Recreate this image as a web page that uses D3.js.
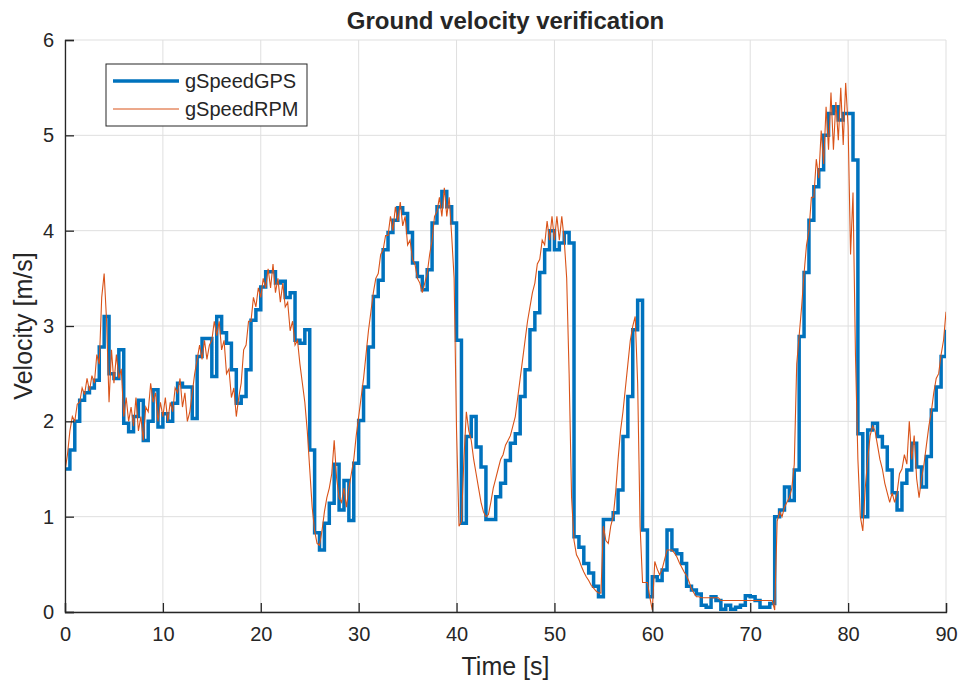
<!DOCTYPE html>
<html>
<head>
<meta charset="utf-8">
<script src="https://cdn.jsdelivr.net/npm/d3@7"></script>
<style>
    body { margin: 0; background: #fff; }
    text { font-family: "Liberation Sans", Arial, Helvetica, sans-serif; fill: #262626; }
</style>
</head>
<body>
<script>
// GPS ground speed, sampled every 0.5 s (held between samples)
const gpsStep = 0.5;
const gpsSpeed = [
    1.50, 1.70, 2.00, 2.22, 2.30, 2.35, 2.43, 2.78, 3.10, 2.50,
    2.45, 2.75, 1.98, 1.89, 2.05, 2.22, 1.80, 2.00, 2.33, 1.94,
    2.08, 2.00, 2.19, 2.40, 2.36, 2.36, 2.03, 2.68, 2.87, 2.87,
    2.47, 3.10, 2.93, 2.82, 2.54, 2.19, 2.26, 2.54, 3.06, 3.17,
    3.41, 3.57, 3.57, 3.45, 3.47, 3.30, 3.35, 2.85, 2.82, 2.96,
    1.70, 0.83, 0.65, 0.93, 1.14, 1.55, 1.07, 1.38, 0.96, 1.56,
    2.01, 2.36, 2.78, 3.31, 3.48, 3.80, 3.98, 4.11, 4.24, 4.18,
    3.98, 3.66, 3.52, 3.38, 3.59, 4.08, 4.25, 4.41, 4.25, 4.08,
    2.85, 0.93, 1.84, 2.05, 1.73, 1.52, 0.97, 0.97, 1.21, 1.35,
    1.59, 1.77, 1.87, 2.26, 2.54, 2.96, 3.14, 3.56, 3.80, 4.00,
    3.80, 3.87, 3.98, 3.87, 0.79, 0.68, 0.51, 0.41, 0.27, 0.16,
    0.97, 0.97, 1.04, 1.28, 1.84, 2.26, 2.96, 3.27, 0.86, 0.16,
    0.37, 0.33, 0.44, 0.86, 0.65, 0.61, 0.51, 0.27, 0.23, 0.19,
    0.07, 0.05, 0.16, 0.12, 0.03, 0.07, 0.03, 0.05, 0.07, 0.17,
    0.16, 0.12, 0.05, 0.05, 0.09, 1.00, 1.07, 1.31, 1.17, 1.49,
    2.89, 3.56, 4.11, 4.46, 4.64, 5.00, 5.23, 5.30, 5.16, 5.23,
    5.23, 4.74, 1.87, 1.00, 1.91, 1.98, 1.84, 1.73, 1.49, 1.25,
    1.07, 1.35, 1.49, 1.77, 1.52, 1.31, 1.63, 2.12, 2.36, 2.68,
    2.96
];

// speed from wheel RPM, sampled every 0.25 s (one row of four per second)
const rpmStep = 0.25;
const rpmSpeed = [
    1.48, 1.65, 1.90, 2.05,  2.00, 2.18, 2.20, 2.35,  2.28, 2.45, 2.32, 2.48,
    2.40, 2.70, 2.60, 3.30,  3.55, 3.05, 2.20, 2.75,  2.40, 2.70, 2.45, 2.55,
    2.05, 2.25, 2.00, 2.15,  1.95, 2.25, 1.90, 2.05,  1.80, 2.15, 2.10, 2.40,
    2.20, 2.30, 2.00, 2.20,  2.05, 2.25, 2.00, 2.20,  2.10, 2.35, 2.30, 2.45,
    2.15, 2.30, 2.00, 2.10,  2.30, 2.50, 2.65, 2.80,  2.65, 2.85, 2.65, 2.80,
    2.85, 3.05, 2.90, 3.05,  2.75, 2.85, 2.50, 2.55,  2.25, 2.35, 2.05, 2.25,
    2.40, 2.75, 2.80, 3.05,  3.05, 3.30, 3.20, 3.40,  3.30, 3.50, 3.40, 3.60,
    3.40, 3.65, 3.35, 3.50,  3.25, 3.45, 3.20, 3.25,  2.95, 3.05, 2.80, 2.85,
    2.60, 2.40, 2.20, 1.90,  1.50, 1.10, 0.85, 0.72,  0.70, 0.85, 1.05, 1.20,
    1.30, 1.45, 1.80, 1.40,  1.20, 1.15, 1.30, 1.10,  1.30, 1.45, 1.60, 1.85,
    2.05, 2.25, 2.45, 2.70,  2.95, 3.15, 3.35, 3.50,  3.55, 3.75, 3.80, 3.95,
    3.95, 4.15, 4.00, 4.25,  4.10, 4.30, 4.05, 4.15,  3.85, 3.90, 3.70, 3.65,
    3.50, 3.45, 3.35, 3.45,  3.55, 3.75, 3.90, 4.15,  4.20, 4.35, 4.15, 4.45,
    4.15, 4.35, 3.95, 3.50,  1.90, 0.90, 0.95, 1.60,  2.10, 1.90, 1.80, 1.60,
    1.45, 1.30, 1.15, 1.05,  1.00, 1.02, 1.15, 1.30,  1.40, 1.50, 1.60, 1.65,
    1.75, 1.80, 1.85, 1.95,  2.05, 2.25, 2.45, 2.65,  2.85, 3.05, 3.20, 3.35,
    3.45, 3.65, 3.70, 3.90,  3.85, 4.10, 3.90, 4.15,  3.90, 4.15, 3.90, 4.15,
    3.90, 3.50, 2.50, 1.20,  0.75, 0.60, 0.55, 0.48,  0.42, 0.37, 0.33, 0.28,
    0.25, 0.22, 0.20, 0.20,  0.90, 0.75, 0.72, 0.90,  1.00, 1.25, 1.60, 1.90,
    2.10, 2.35, 2.60, 2.85,  3.00, 3.10, 2.40, 0.90,  0.31, 0.31, 0.31, 0.15,
    0.02, 0.53, 0.45, 0.39,  0.45, 0.55, 0.65, 0.65,  0.65, 0.62, 0.58, 0.52,
    0.47, 0.42, 0.38, 0.32,  0.24, 0.20, 0.16, 0.16,  0.15, 0.15, 0.15, 0.15,
    0.15, 0.15, 0.15, 0.15,  0.12, 0.12, 0.12, 0.12,  0.12, 0.12, 0.12, 0.12,
    0.12, 0.12, 0.12, 0.12,  0.12, 0.12, 0.12, 0.12,  0.12, 0.12, 0.12, 0.12,
    0.12, 0.12, 0.02, 0.95,  1.05, 1.00, 1.10, 1.15,  1.20, 1.30, 1.55, 2.60,
    2.90, 3.20, 3.55, 3.85,  4.00, 4.35, 4.35, 4.75,  4.55, 5.05, 4.70, 5.30,
    4.85, 5.45, 4.85, 5.35,  4.95, 5.50, 4.90, 5.55,  5.10, 3.75, 4.40, 2.70,
    1.60, 1.00, 0.85, 1.30,  1.60, 1.85, 1.95, 1.90,  1.75, 1.60, 1.50, 1.35,
    1.25, 1.15, 1.25, 1.15,  1.25, 1.45, 1.50, 1.65,  1.55, 2.00, 1.60, 1.85,
    1.40, 1.20, 1.40, 1.55,  1.75, 1.95, 2.10, 2.30,  2.45, 2.50, 2.70, 2.85,
    3.15
];

const xTicks = [0, 10, 20, 30, 40, 50, 60, 70, 80, 90];
const yTicks = [0, 1, 2, 3, 4, 5, 6];
const seriesNames = ['gSpeedGPS', 'gSpeedRPM'];

document.addEventListener('DOMContentLoaded', function () {
    const width = 960;
    const height = 682;
    const margin = { top: 40, right: 14, bottom: 70, left: 65 };
    const plotW = width - margin.left - margin.right;
    const plotH = height - margin.top - margin.bottom;

    const blue = '#0072BD';
    const orange = '#D95319';
    const axisColor = '#262626';

    const svg = d3.select('body').append('svg')
        .attr('width', width)
        .attr('height', height);

    const x = d3.scaleLinear().domain([0, 90]).range([0, plotW]);
    const y = d3.scaleLinear().domain([0, 6]).range([plotH, 0]);

    svg.append('defs').append('clipPath')
        .attr('id', 'plot-clip')
        .append('rect')
        .attr('width', plotW)
        .attr('height', plotH);

    const g = svg.append('g')
        .attr('transform', `translate(${margin.left},${margin.top})`);

    // grid
    g.append('g').selectAll('line')
        .data(xTicks)
        .enter().append('line')
        .attr('x1', d => x(d)).attr('x2', d => x(d))
        .attr('y1', 0).attr('y2', plotH)
        .attr('stroke', '#dfdfdf').attr('stroke-width', 1);

    g.append('g').selectAll('line')
        .data(yTicks)
        .enter().append('line')
        .attr('x1', 0).attr('x2', plotW)
        .attr('y1', d => y(d)).attr('y2', d => y(d))
        .attr('stroke', '#dfdfdf').attr('stroke-width', 1);

    // series
    const gpsData = gpsSpeed.map((v, i) => [i * gpsStep, v]);
    const rpmData = rpmSpeed.map((v, i) => [i * rpmStep, v]);

    const gpsLine = d3.line()
        .x(d => x(d[0]))
        .y(d => y(d[1]))
        .curve(d3.curveStepAfter);

    const rpmLine = d3.line()
        .x(d => x(d[0]))
        .y(d => y(d[1]));

    const lines = g.append('g').attr('clip-path', 'url(#plot-clip)');

    lines.append('path')
        .datum(gpsData)
        .attr('d', gpsLine)
        .attr('fill', 'none')
        .attr('stroke', blue)
        .attr('stroke-width', 3.5);

    lines.append('path')
        .datum(rpmData)
        .attr('d', rpmLine)
        .attr('fill', 'none')
        .attr('stroke', orange)
        .attr('stroke-width', 1.1);

    // axes (box off, ticks pointing inward)
    const xAxis = g.append('g')
        .attr('transform', `translate(0,${plotH})`)
        .call(d3.axisBottom(x).tickValues(xTicks).tickFormat(d3.format('d'))
            .tickSize(-9).tickPadding(15));

    const yAxis = g.append('g')
        .call(d3.axisLeft(y).tickValues(yTicks).tickFormat(d3.format('d'))
            .tickSize(-9).tickPadding(11));

    [xAxis, yAxis].forEach(ax => {
        ax.select('.domain').attr('stroke', axisColor).attr('stroke-width', 1.3);
        ax.selectAll('.tick line').attr('stroke', axisColor).attr('stroke-width', 1.3);
        ax.selectAll('.tick text')
            .attr('fill', axisColor)
            .style('font-size', '20px')
            .style('font-family', '"Liberation Sans", Arial, sans-serif');
    });

    // title and labels
    svg.append('text')
        .attr('x', margin.left + plotW / 2)
        .attr('y', 29)
        .attr('text-anchor', 'middle')
        .style('font-size', '24px')
        .style('font-weight', 'bold')
        .text('Ground velocity verification');

    svg.append('text')
        .attr('x', margin.left + plotW / 2)
        .attr('y', 675)
        .attr('text-anchor', 'middle')
        .style('font-size', '25px')
        .text('Time [s]');

    svg.append('text')
        .attr('transform', `translate(32,${margin.top + plotH / 2}) rotate(-90)`)
        .attr('text-anchor', 'middle')
        .style('font-size', '25px')
        .text('Velocity [m/s]');

    // legend
    const legend = svg.append('g').attr('transform', 'translate(106,64)');

    legend.append('rect')
        .attr('width', 201)
        .attr('height', 62)
        .attr('fill', '#fff')
        .attr('stroke', axisColor)
        .attr('stroke-width', 1);

    const legendStyles = [
        { color: blue, w: 3.5 },
        { color: orange, w: 1 }
    ];

    seriesNames.forEach((name, i) => {
        const ly = 17 + i * 28;
        legend.append('line')
            .attr('x1', 7).attr('x2', 73)
            .attr('y1', ly).attr('y2', ly)
            .attr('stroke', legendStyles[i].color)
            .attr('stroke-width', legendStyles[i].w);
        legend.append('text')
            .attr('x', 79)
            .attr('y', ly + 7)
            .style('font-size', '20px')
            .text(name);
    });
});
</script>
</body>
</html>
